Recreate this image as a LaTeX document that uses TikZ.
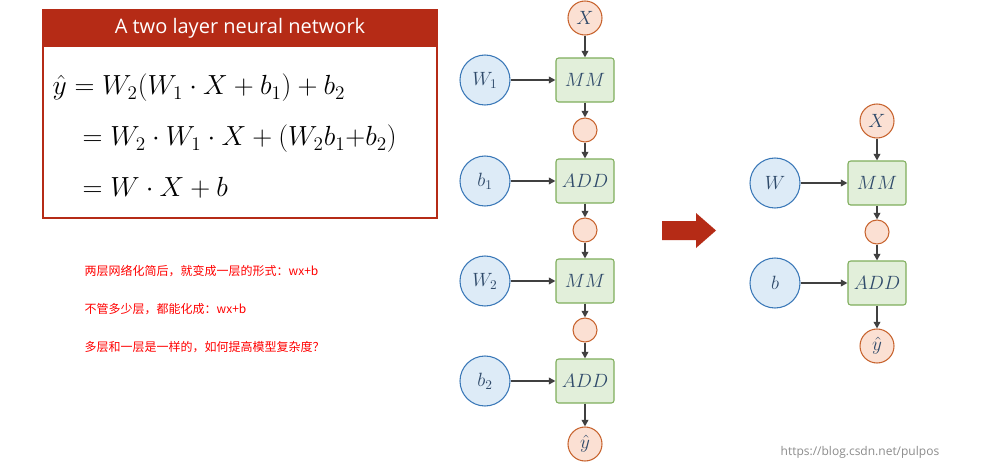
\documentclass[tikz,border=0pt]{standalone}
\usepackage{fontspec}
\setmainfont{Latin Modern Roman}
\newfontfamily\cjk{Noto Sans CJK SC}
\newfontfamily\sansf{Open Sans}
\usetikzlibrary{arrows.meta}
\definecolor{tred}{HTML}{B52B16}
\definecolor{orf}{HTML}{FBE0D3}
\definecolor{ord}{HTML}{C8642F}
\definecolor{blf}{HTML}{DDEBF7}
\definecolor{bld}{HTML}{3A78B8}
\definecolor{grf}{HTML}{E2EFDA}
\definecolor{grd}{HTML}{7FAE5C}
\definecolor{lbl}{HTML}{2F4A6A}
\begin{document}
\begin{tikzpicture}[x=0.75pt,y=-0.75pt,
 oc/.style={circle,draw=ord,fill=orf,line width=0.8pt,minimum size=34*0.75pt,inner sep=0pt,text=lbl,font=\Large},
 sc/.style={circle,draw=ord,fill=orf,line width=0.8pt,minimum size=24*0.75pt,inner sep=0pt},
 bc/.style={circle,draw=bld,fill=blf,line width=0.8pt,minimum size=50*0.75pt,inner sep=0pt,text=lbl,font=\Large},
 op/.style={rectangle,rounded corners=2pt,draw=grd,fill=grf,line width=0.8pt,minimum width=58*0.75pt,minimum height=44*0.75pt,inner sep=0pt,text=lbl,font=\Large},
 ar/.style={-{Triangle[length=5pt,width=5pt]},draw=black!75,line width=1.2pt},
 rt/.style={anchor=west,text=red,font=\cjk\fontsize{9}{11}\selectfont}]
\useasboundingbox (0,0) rectangle (981,468);
\fill[white] (0,0) rectangle (981,468);
% left box
\draw[tred,line width=1pt] (43,10) rectangle (437,218);
\fill[tred] (43,10) rectangle (437,47);
\node[text=white,font=\sansf\fontsize{15}{18}\selectfont] (title) at (240,28.5) {A two layer neural network};
\node[anchor=west,font=\fontsize{22}{26}\selectfont] (e1) at (48,88) {$\hat{y}=W_2(W_1\cdot X+b_1)+b_2$};
\node[anchor=west,font=\fontsize{22}{26}\selectfont] (e2) at (78,139) {$=W_2\cdot W_1\cdot X+(W_2b_1{+}b_2)$};
\node[anchor=west,font=\fontsize{22}{26}\selectfont] (e3) at (78,188) {$=W\cdot X+b$};
\node[rt] (t1) at (80,271) {两层网络化简后，就变成一层的形式：wx+b};
\node[rt] (t2) at (80,309) {不管多少层，都能化成：wx+b};
\node[rt] (t3) at (80,347) {多层和一层是一样的，如何提高模型复杂度？};
% network 1
\node[oc] (x1) at (585,18) {$X$};
\node[op] (mm1) at (585,80) {$MM$};
\node[sc] (s1) at (585,130) {};
\node[op] (add1) at (585,181) {$ADD$};
\node[sc] (s2) at (585,230) {};
\node[op] (mm2) at (585,281) {$MM$};
\node[sc] (s3) at (585,330) {};
\node[op] (add2) at (585,381) {$ADD$};
\node[oc] (y1) at (585,444) {$\hat{y}$};
\node[bc] (w1) at (485,80) {$W_1$};
\node[bc] (b1) at (485,181) {$b_1$};
\node[bc] (w2) at (485,281) {$W_2$};
\node[bc] (b2) at (485,381) {$b_2$};
\foreach \a/\b in {x1/mm1,mm1/s1,s1/add1,add1/s2,s2/mm2,mm2/s3,s3/add2,add2/y1,w1/mm1,b1/add1,w2/mm2,b2/add2}
  \draw[ar] (\a) -- (\b);
% big arrow
\fill[tred] (662,221) -- (696,221) -- (696,213) -- (716,230.5) -- (696,248) -- (696,240) -- (662,240) -- cycle;
% network 2
\node[oc] (x2) at (877,121) {$X$};
\node[op] (mm3) at (877,183) {$MM$};
\node[sc] (s4) at (877,232) {};
\node[op] (add3) at (877,283) {$ADD$};
\node[oc] (y2) at (877,346) {$\hat{y}$};
\node[bc] (w) at (775,183) {$W$};
\node[bc] (b) at (775,283) {$b$};
\foreach \a/\b in {x2/mm3,mm3/s4,s4/add3,add3/y2,w/mm3,b/add3}
  \draw[ar] (\a) -- (\b);
\node[anchor=west,text=black!45,font=\sansf\fontsize{9}{11}\selectfont] (wm) at (776,452) {https://blog.csdn.net/pulpos};
\end{tikzpicture}
\end{document}
